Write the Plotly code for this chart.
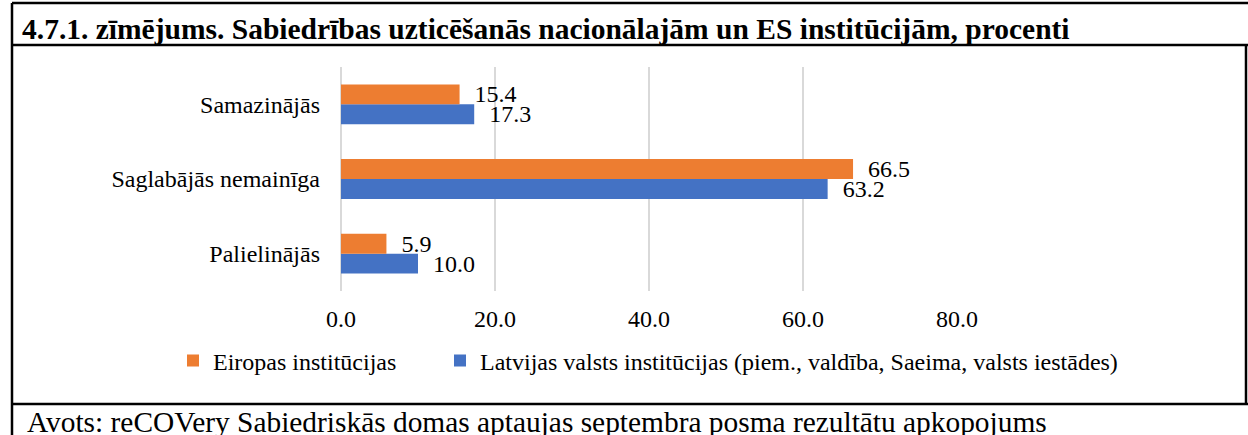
import plotly.graph_objects as go

categories = ["Samazinājās", "Saglabājās nemainīga", "Palielinājās"]
eu_values = [15.4, 66.5, 5.9]
lv_values = [17.3, 63.2, 10.0]
series_names = ["Eiropas institūcijas",
                "Latvijas valsts institūcijas (piem., valdība, Saeima, valsts iestādes)"]
x_ticks = [0, 20, 40, 60, 80]
x_tick_labels = ["0.0", "20.0", "40.0", "60.0", "80.0"]
title_text = "4.7.1. zīmējums. Sabiedrības uzticēšanās nacionālajām un ES institūcijām, procenti"
source_text = "Avots: reCOVery Sabiedriskās domas aptaujas septembra posma rezultātu apkopojums"

W, H = 1248, 435
PL, PR, PT, PB = 341, 957, 67, 291
FONT = "'Liberation Serif', 'Times New Roman', Times, 'DejaVu Serif', serif"
ORANGE = "#ED7D31"
BLUE = "#4472C4"


def fx(p):
    return (p - PL) / (PR - PL)


def fy(q):
    return (PB - q) / (PB - PT)


label_font = dict(family=FONT, size=24, color="black")

fig = go.Figure()
fig.add_trace(go.Bar(
    y=categories, x=lv_values, orientation="h", name=series_names[1],
    marker=dict(color=BLUE, line=dict(width=0)),
    text=lv_values, texttemplate="\u00a0\u00a0%{x:.1f}", textposition="outside",
    constraintext="none", cliponaxis=False, textfont=label_font, legend="legend2",
))
fig.add_trace(go.Bar(
    y=categories, x=eu_values, orientation="h", name=series_names[0],
    marker=dict(color=ORANGE, line=dict(width=0)),
    text=eu_values, texttemplate="\u00a0\u00a0%{x:.1f}", textposition="outside",
    constraintext="none", cliponaxis=False, textfont=label_font, legend="legend",
))

shapes = []
line = dict(color="black", width=2.5)
shapes.append(dict(type="line", xref="paper", yref="paper", x0=fx(12), x1=fx(1248), y0=fy(3), y1=fy(3), line=line))
shapes.append(dict(type="line", xref="paper", yref="paper", x0=fx(12), x1=fx(12), y0=fy(3), y1=fy(436), line=line))
shapes.append(dict(type="line", xref="paper", yref="paper", x0=fx(12), x1=fx(1248), y0=fy(45), y1=fy(45), line=line))
shapes.append(dict(type="line", xref="paper", yref="paper", x0=fx(1246), x1=fx(1246), y0=fy(45), y1=fy(404), line=line))
shapes.append(dict(type="line", xref="paper", yref="paper", x0=fx(12), x1=fx(1248), y0=fy(404), y1=fy(404), line=line))

annotations = [
    dict(text="<b>" + title_text + "</b>", xref="paper", yref="paper", x=fx(20), y=fy(29),
         xanchor="left", yanchor="middle", showarrow=False,
         font=dict(family=FONT, size=29.5, color="black")),
    dict(text=source_text, xref="paper", yref="paper", x=fx(25), y=fy(422),
         xanchor="left", yanchor="middle", showarrow=False,
         font=dict(family=FONT, size=29.4, color="black")),
]

legend_common = dict(orientation="h", yanchor="middle", xanchor="left",
                     font=label_font, bgcolor="rgba(0,0,0,0)", itemwidth=30,
                     borderwidth=0)

fig.update_layout(
    width=W, height=H,
    margin=dict(l=PL, r=W - PR, t=PT, b=H - PB, pad=0, autoexpand=False),
    paper_bgcolor="white", plot_bgcolor="white",
    barmode="group", bargap=0.467, bargroupgap=0,
    font=dict(family=FONT, size=24, color="black"),
    showlegend=True,
    legend=dict(x=fx(173), y=fy(361), **legend_common),
    legend2=dict(x=fx(440), y=fy(361), **legend_common),
    shapes=shapes, annotations=annotations,
    xaxis=dict(range=[0, 80], tickvals=x_ticks, ticktext=x_tick_labels,
               showgrid=True, gridcolor="#D9D9D9", gridwidth=1.5,
               zeroline=True, zerolinecolor="#D9D9D9", zerolinewidth=1.5,
               showline=False, ticks="", ticklabelstandoff=11, automargin=False,
               tickfont=label_font, fixedrange=True),
    yaxis=dict(categoryorder="array", categoryarray=categories[::-1],
               showgrid=False, zeroline=False, showline=False, ticks="",
               ticklabelstandoff=20, automargin=False,
               tickfont=label_font, fixedrange=True),
)

fig.write_html("out.html", config={"displayModeBar": False},
               post_script="document.body.style.margin='0';document.body.style.padding='0';")
